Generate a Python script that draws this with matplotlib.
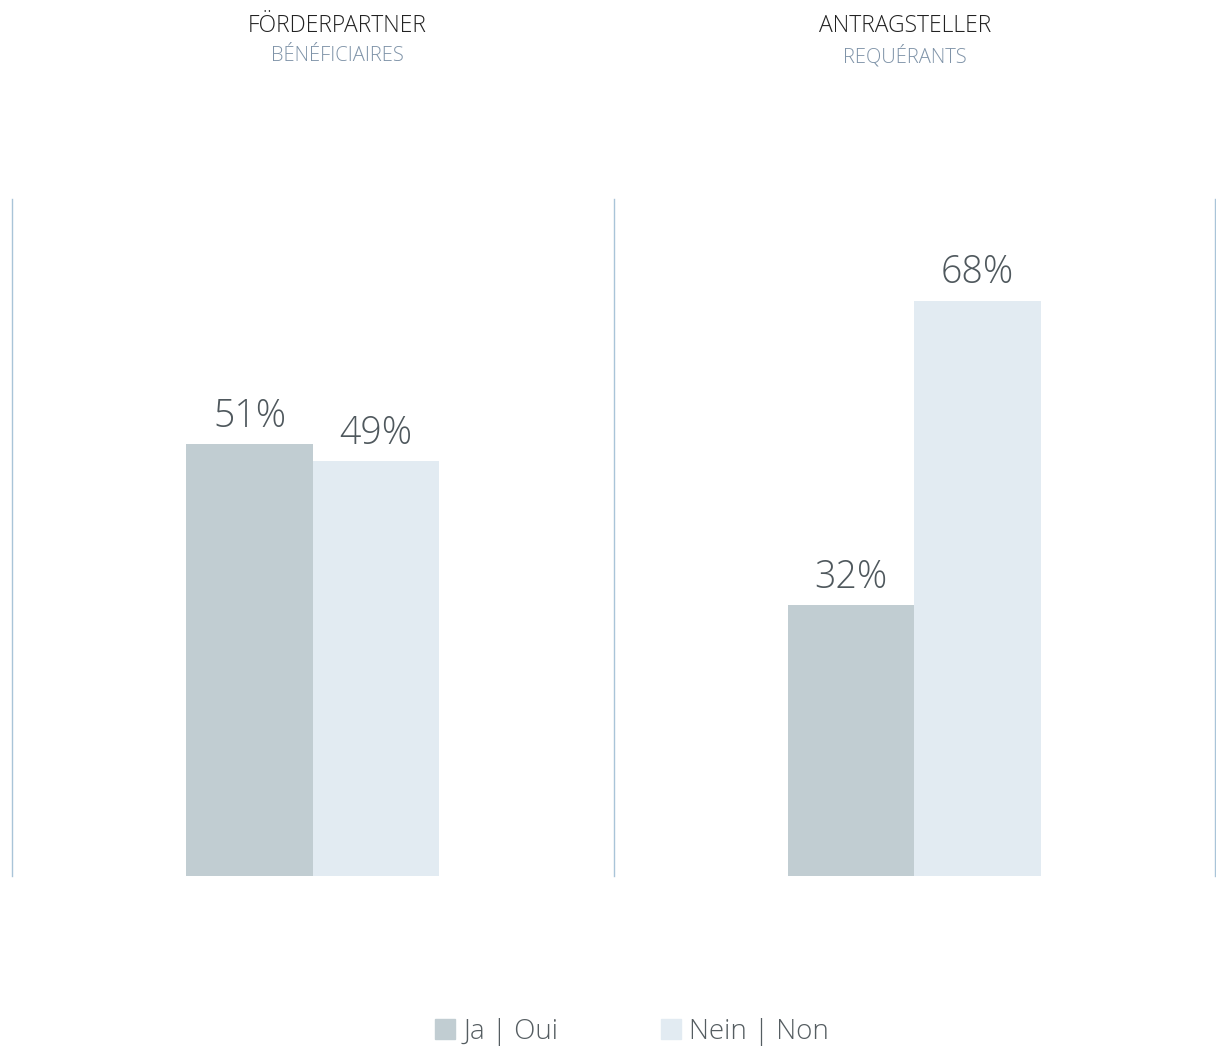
import matplotlib
matplotlib.use('Agg')
import matplotlib.pyplot as plt
from matplotlib.patches import Patch
import numpy as np

# data
groups = ['FÖRDERPARTNER', 'ANTRAGSTELLER']
subtitles = ['BÉNÉFICIAIRES', 'REQUÉRANTS']
series = ['Ja | Oui', 'Nein | Non']
ja = [51, 32]
nein = [49, 68]

col_ja = '#c1cdd2'
col_nein = '#e2ebf2'
txt = '#4f585d'

plt.rcParams['font.family'] = ['Open Sans', 'DejaVu Sans']

fig = plt.figure(figsize=(12.16, 10.48), dpi=100)
ax = fig.add_axes([12 / 1216, 172 / 1048, 1203 / 1216, 677 / 1048])

x = np.arange(len(groups))
w = 0.21
b1 = ax.bar(x - w / 2, ja, w, color=col_ja)
b2 = ax.bar(x + w / 2, nein, w, color=col_nein)

for bars in (b1, b2):
    for r in bars:
        ax.annotate(f'{r.get_height():.0f}%', (r.get_x() + r.get_width() / 2, r.get_height()),
                    xytext=(0, 6), textcoords='offset points', ha='center', va='bottom',
                    fontsize=27, color=txt, fontweight='light')

# panel separators
for xv in [-0.5, 0.5, 1.5]:
    ax.axvline(xv, color='#a9c4d8', lw=1, clip_on=False)

ax.set_xlim(-0.5, 1.5)
ax.set_ylim(0, 80)
ax.axis('off')

# titles above each panel
for i, (g, s) in enumerate(zip(groups, subtitles)):
    xf = (337 + 568 * i) / 1216
    fig.text(xf, 1 - 26 / 1048, g, ha='center', va='center', fontsize=16.5,
             color='#222222', fontweight='light')
    fig.text(xf, 1 - 56 / 1048, s, ha='center', va='center', fontsize=14.5,
             color='#7f93a8', fontweight='light')

handles = [Patch(color=col_ja), Patch(color=col_nein)]
leg = fig.legend(handles, series, loc='center', bbox_to_anchor=(632 / 1216, 1 - 1032 / 1048),
                 ncol=2, frameon=False, fontsize=20, handlelength=0.72, handleheight=0.72,
                 handletextpad=0.3, columnspacing=3.7)
for t in leg.get_texts():
    t.set_color('#555d61')
    t.set_fontweight('light')

fig.savefig('out.png', dpi=100)
